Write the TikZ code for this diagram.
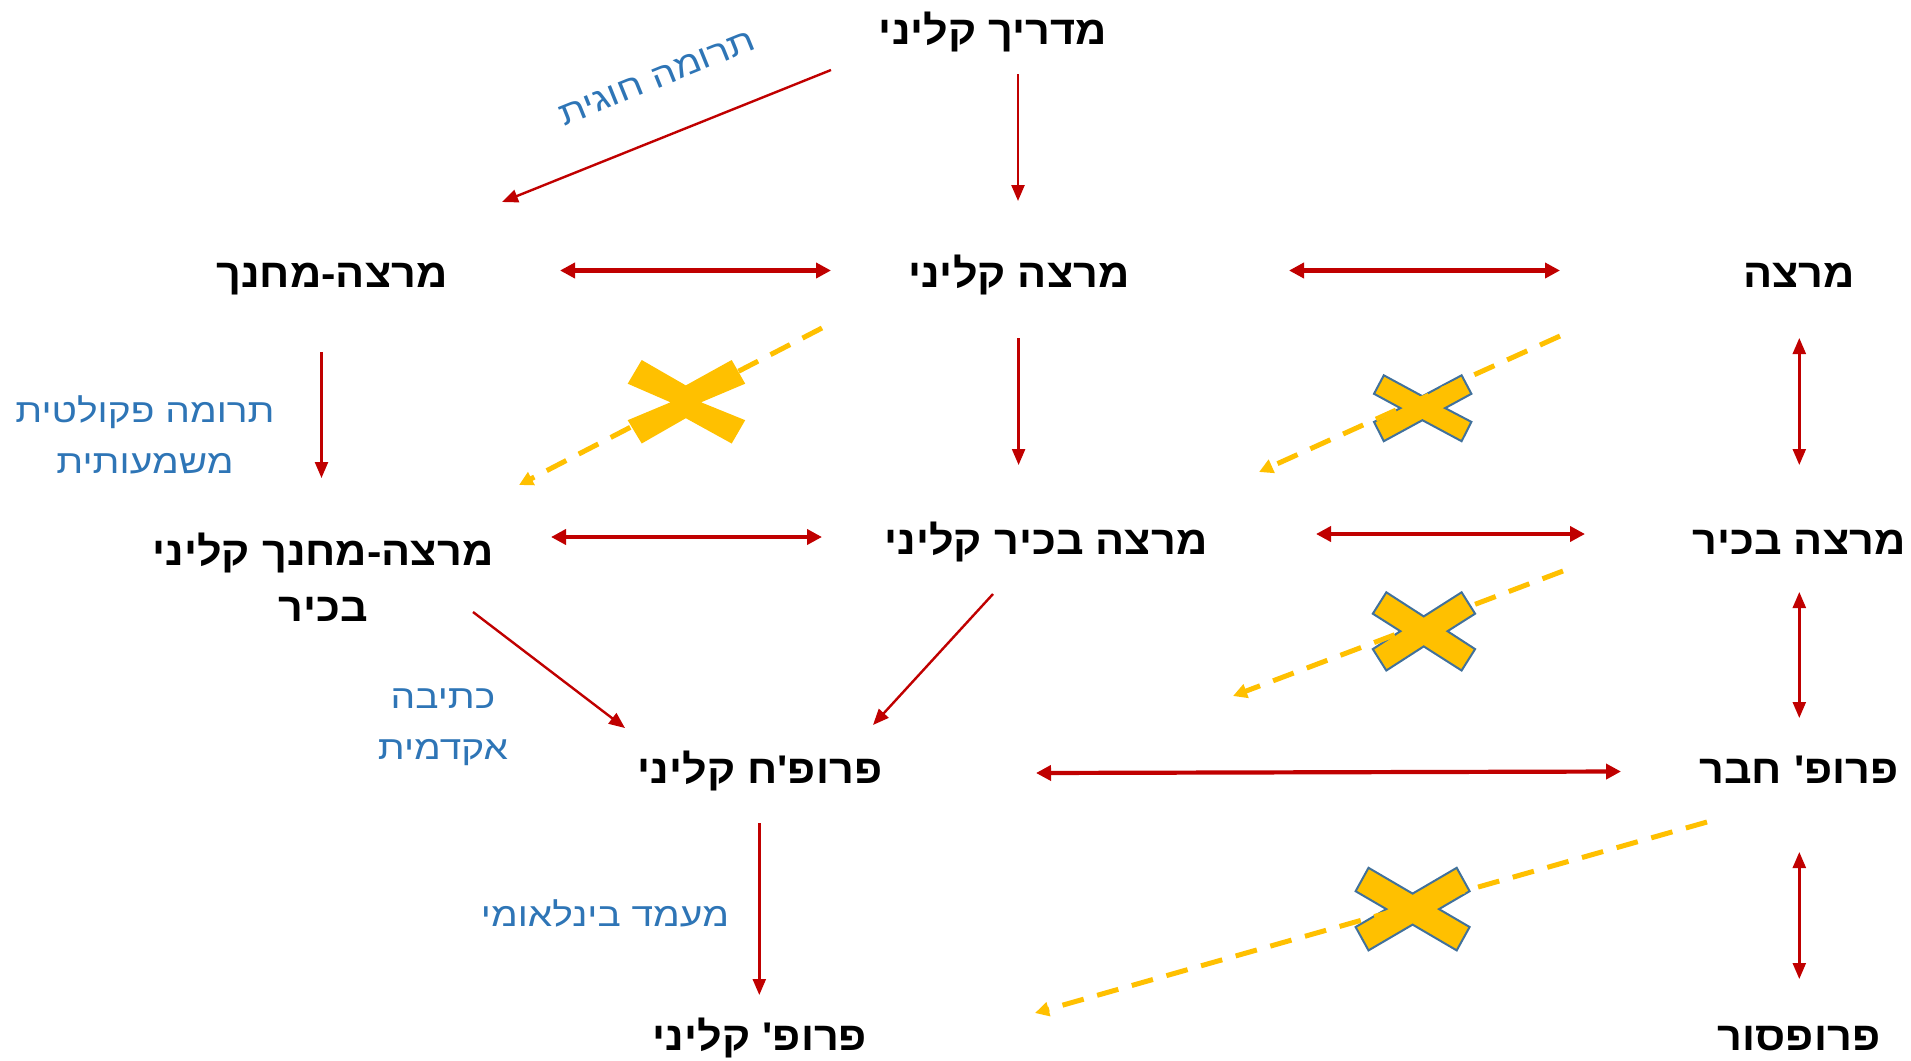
\documentclass[tikz,border=0pt]{standalone}
\usepackage{fontspec}
\newfontfamily\heb[Script=Hebrew,FakeStretch=1.08]{Liberation Sans}
\newfontfamily\hebnote[Script=Hebrew,FakeStretch=1.18]{Liberation Sans}
\TeXXeTstate=1
\usetikzlibrary{arrows.meta}
\definecolor{dred}{HTML}{C00000}
\definecolor{gold}{HTML}{FFC000}
\definecolor{lblue}{HTML}{2E75B6}
\definecolor{xline}{HTML}{41719C}
\begin{document}
\begin{tikzpicture}[x=0.5pt,y=-0.5pt,
  lvl/.style={font=\heb\bfseries\fontsize{20}{28}\selectfont, inner sep=0pt, anchor=base},
  note/.style={font=\hebnote\fontsize{16.5}{25.2}\selectfont, text=lblue, inner sep=0pt, anchor=base},
  one/.style={dred, line width=1.2pt, -{Triangle[length=8pt,width=6.5pt]}},
  both/.style={dred, line width=2.1pt, {Triangle[length=7.5pt,width=7.5pt]}-{Triangle[length=7.5pt,width=7.5pt]}},
  boththin/.style={dred, line width=1.2pt, {Triangle[length=8pt,width=6.5pt]}-{Triangle[length=8pt,width=6.5pt]}},
  blocked/.style={gold, line width=2.5pt, dash pattern=on 11pt off 7pt, -{Triangle[length=7pt,width=7pt]}},
  cross/.style={fill=gold},
  crossline/.style={fill=gold, draw=xline, line width=1pt, line join=miter}
]
\useasboundingbox (0,0) rectangle (1911,1060);

% level nodes
\node[lvl] (mk) at (993,44) {\beginR מדריך קליני\endR};
\node[lvl] (mm) at (332,287) {\beginR מרצה-מחנך\endR};
\node[lvl] (mq) at (1019,287) {\beginR מרצה קליני\endR};
\node[lvl] (mr) at (1799,287) {\beginR מרצה\endR};
\node[lvl, align=center] (mmb) at (323,621) {\beginR מרצה-מחנך קליני\endR\\\beginR בכיר\endR};
\node[lvl] (mbq) at (1046,554) {\beginR מרצה בכיר קליני\endR};
\node[lvl] (mb) at (1799,554) {\beginR מרצה בכיר\endR};
\node[lvl] (pmq) at (760,783) {\beginR פרופ'ח קליני\endR};
\node[lvl] (ph) at (1799,783) {\beginR פרופ' חבר\endR};
\node[lvl] (pq) at (760,1050) {\beginR פרופ' קליני\endR};
\node[lvl] (pf) at (1799,1050) {\beginR פרופסור\endR};

% notes
\node[note, anchor=center, rotate=22] (n1) at (657,78) {\beginR תרומה חוגית\endR};
\node[note, align=center] (n2) at (145,473) {\beginR תרומה פקולטית\endR\\\beginR משמעותית\endR};
\node[note, align=center] (n3) at (443,759) {\beginR כתיבה\endR\\\beginR אקדמית\endR};
\node[note] (n4) at (605,926) {\beginR מעמד בינלאומי\endR};

% connector end points
\coordinate (a1s) at (831,70);   \coordinate (a1e) at (502,202);
\coordinate (a2s) at (1018,74);  \coordinate (a2e) at (1018,201);
\coordinate (a3s) at (560,270.5); \coordinate (a3e) at (831,270.5);
\coordinate (a4s) at (1289,270.5); \coordinate (a4e) at (1560,270.5);
\coordinate (a5s) at (321.5,352); \coordinate (a5e) at (321.5,478);
\coordinate (a6s) at (1018.6,338); \coordinate (a6e) at (1018.6,465);
\coordinate (a7s) at (1799.3,338); \coordinate (a7e) at (1799.3,465);
\coordinate (a8s) at (551,537); \coordinate (a8e) at (822,537);
\coordinate (a9s) at (1316,534); \coordinate (a9e) at (1585,534);
\coordinate (a10s) at (1799.3,592); \coordinate (a10e) at (1799.3,718);
\coordinate (a11s) at (473,612); \coordinate (a11e) at (625,728);
\coordinate (a12s) at (993,594); \coordinate (a12e) at (873,725);
\coordinate (a13s) at (1036,773); \coordinate (a13e) at (1621,771.5);
\coordinate (a14s) at (759.3,823); \coordinate (a14e) at (759.3,995);
\coordinate (a15s) at (1799.3,852); \coordinate (a15e) at (1799.3,979);
\coordinate (bAs) at (822,328); \coordinate (bAe) at (519,485);
\coordinate (bBs) at (1560,336); \coordinate (bBe) at (1259,472);
\coordinate (bCs) at (1563,571); \coordinate (bCe) at (1233,696);
\coordinate (bDs) at (1707,822); \coordinate (bDe) at (1035,1013);

% red connectors
\draw[one] (a1s) -- (a1e);
\draw[one] (a2s) -- (a2e);
\draw[both] (a3s) -- (a3e);
\draw[both] (a4s) -- (a4e);
\draw[one] (a5s) -- (a5e);
\draw[one] (a6s) -- (a6e);
\draw[boththin] (a7s) -- (a7e);
\draw[both] (a8s) -- (a8e);
\draw[both] (a9s) -- (a9e);
\draw[boththin] (a10s) -- (a10e);
\draw[one] (a11s) -- (a11e);
\draw[one] (a12s) -- (a12e);
\draw[both] (a13s) -- (a13e);
\draw[one] (a14s) -- (a14e);
\draw[boththin] (a15s) -- (a15e);

% crosses
\fill[cross] (641.7,360) -- (685.8,385.4) -- (731.7,360) -- (745.2,383.7) -- (701.1,402.3) -- (745.2,420.2) -- (731.7,443.5) -- (685.8,418.2) -- (641.7,443.5) -- (627.7,420.2) -- (670.5,402.3) -- (627.7,383.7) -- cycle;
\filldraw[crossline] (1383.8,375.3) -- (1422.4,396.2) -- (1461.6,375.3) -- (1471.4,393.8) -- (1445.1,408.1) -- (1471.4,421.9) -- (1461.6,441.2) -- (1422.4,420.2) -- (1383.8,441.2) -- (1374.0,421.9) -- (1400.4,408.1) -- (1374.0,393.8) -- cycle;
\filldraw[crossline] (1386.3,592.3) -- (1423.7,616.4) -- (1461.6,592.3) -- (1475.1,613.7) -- (1447.5,631.2) -- (1475.1,649.1) -- (1461.6,670.5) -- (1423.7,646.4) -- (1386.3,670.5) -- (1372.8,649.1) -- (1400.4,631.2) -- (1372.8,613.7) -- cycle;
\filldraw[crossline] (1368.5,867.8) -- (1412.6,893.6) -- (1456.7,867.8) -- (1469.6,891.2) -- (1439.0,909.1) -- (1469.6,927.0) -- (1456.7,950.4) -- (1412.6,924.6) -- (1368.5,950.4) -- (1355.6,927.0) -- (1386.3,909.1) -- (1355.6,891.2) -- cycle;

% blocked (dashed) connectors
\draw[blocked] (bAs) -- (bAe);
\draw[blocked] (bBs) -- (bBe);
\draw[blocked] (bCs) -- (bCe);
\draw[blocked] (bDs) -- (bDe);
\end{tikzpicture}
\end{document}
